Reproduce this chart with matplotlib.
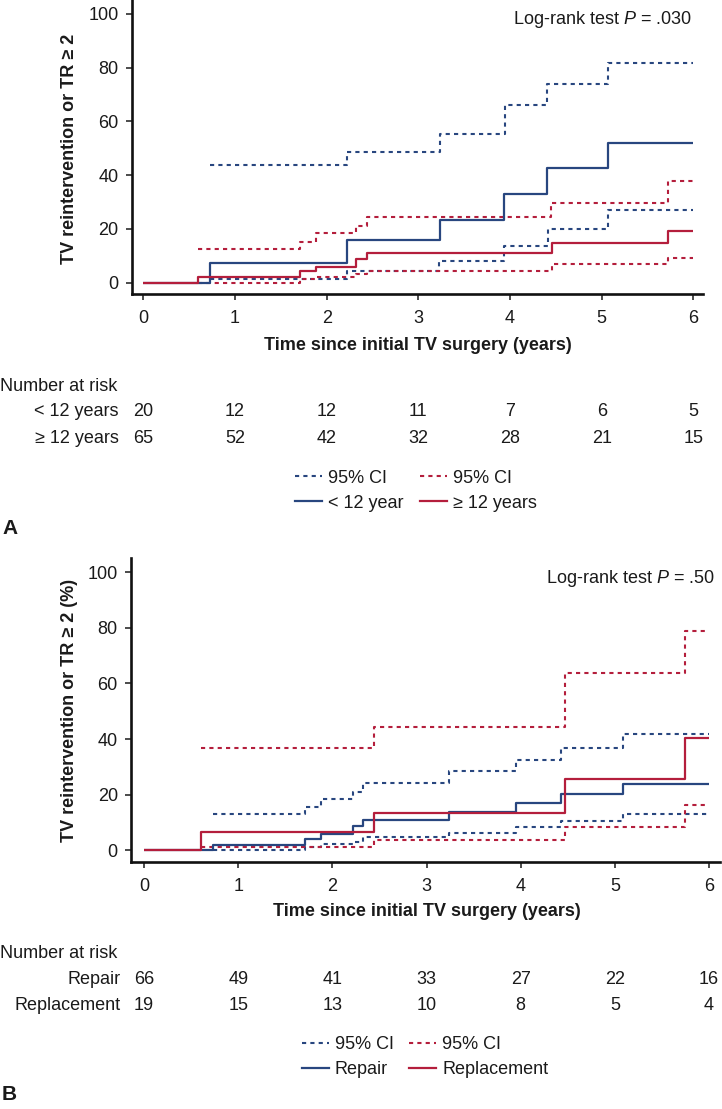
import matplotlib
matplotlib.use("Agg")
import matplotlib.pyplot as plt
from matplotlib.lines import Line2D
from matplotlib.transforms import blended_transform_factory

plt.rcParams['font.family'] = ['Liberation Sans', 'DejaVu Sans']
plt.rcParams['mathtext.fontset'] = 'custom'
plt.rcParams['mathtext.rm'] = 'Liberation Sans'
plt.rcParams['mathtext.it'] = 'Liberation Sans:italic'

BLUE = '#28467f'
RED = '#b41e3c'
TXT = '#1a1a1a'

# ---------------- Panel A data ----------------
a_young_t = [0, 0.73, 2.22, 3.24, 3.93, 4.40, 5.07, 6.0]
a_young_v = [0, 7.5, 15.7, 23.3, 33.0, 42.5, 52.1, 52.1]
a_young_hi_t = [0.73, 2.22, 3.24, 3.94, 4.40, 5.07, 6.0]
a_young_hi_v = [43.7, 48.6, 55.4, 66.2, 74.0, 81.7, 81.7]
a_young_lo_t = [0.73, 2.22, 3.23, 3.93, 4.41, 5.07, 6.0]
a_young_lo_v = [1.3, 4.4, 8.1, 13.7, 19.9, 27.0, 27.0]

a_old_t = [0, 0.6, 1.71, 1.88, 2.32, 2.44, 4.46, 5.72, 6.0]
a_old_v = [0, 2.0, 4.4, 6.0, 8.8, 11.0, 14.9, 19.3, 19.3]
a_old_hi_t = [0.6, 1.71, 1.88, 2.32, 2.44, 4.45, 5.72, 6.0]
a_old_hi_v = [12.6, 15.2, 18.4, 20.9, 24.3, 29.7, 37.9, 37.9]
a_old_lo_t = [0.6, 1.71, 1.88, 2.32, 2.44, 4.46, 5.72, 6.0]
a_old_lo_v = [0, 1.2, 2.0, 3.2, 4.5, 7.0, 9.2, 9.2]

a_risk_times = [0, 1, 2, 3, 4, 5, 6]
a_risk_young = [20, 12, 12, 11, 7, 6, 5]
a_risk_old = [65, 52, 42, 32, 28, 21, 15]
a_groups = ['< 12 years', '\u2265 12 years']
a_legend = ['95% CI', '< 12 year', '95% CI', '\u2265 12 years']

# ---------------- Panel B data ----------------
b_rep_t = [0, 0.73, 1.71, 1.88, 2.22, 2.33, 3.24, 3.95, 4.43, 5.09, 6.0]
b_rep_v = [0, 1.9, 4.1, 5.9, 8.8, 10.9, 13.8, 17.1, 20.3, 23.9, 23.9]
b_rep_ci_t = [0.73, 1.71, 1.88, 2.22, 2.33, 3.24, 3.95, 4.43, 5.09, 6.0]
b_rep_hi_v = [12.9, 15.5, 18.3, 21.1, 24.3, 28.4, 32.4, 36.7, 42.0, 42.0]
b_rep_lo_v = [0.2, 1.3, 2.3, 3.1, 4.8, 6.1, 8.3, 10.6, 12.9, 12.9]

b_repl_t = [0, 0.6, 2.44, 4.47, 5.74, 6.0]
b_repl_v = [0, 6.5, 13.4, 25.7, 40.5, 40.5]
b_repl_ci_t = [0.6, 2.44, 4.47, 5.74, 6.0]
b_repl_hi_v = [36.8, 44.5, 63.7, 79.0, 79.0]
b_repl_lo_v = [1.1, 3.6, 8.5, 16.3, 16.3]

b_risk_times = [0, 1, 2, 3, 4, 5, 6]
b_risk_repair = [66, 49, 41, 33, 27, 22, 16]
b_risk_repl = [19, 15, 13, 10, 8, 5, 4]
b_groups = ['Repair', 'Replacement']
b_legend = ['95% CI', 'Repair', '95% CI', 'Replacement']

W, H = 722, 1109
fig = plt.figure(figsize=(W / 100, H / 100), dpi=100)


def fx(x):
    return x / W


def fy(y):
    return 1 - y / H


FS = 13
DASH = (0, (2.0, 2.0))


def style_axes(ax, xlim, ylim):
    ax.set_xlim(*xlim)
    ax.set_ylim(*ylim)
    ax.set_xticks(range(7))
    ax.set_yticks(range(0, 101, 20))
    for s in ['top', 'right']:
        ax.spines[s].set_visible(False)
    for s in ['left', 'bottom']:
        ax.spines[s].set_linewidth(1.9)
        ax.spines[s].set_color('#111111')
    ax.tick_params(axis='x', direction='out', length=4.5, width=1.1,
                   labelsize=FS, pad=7, colors=TXT)
    ax.tick_params(axis='y', direction='out', length=4.5, width=1.1,
                   labelsize=FS, pad=5, colors=TXT)
    ax.patch.set_alpha(0)


def step(ax, t, v, color, ls='-'):
    ax.step(t, v, where='post', color=color, lw=1.6 if ls == '-' else 1.5,
            linestyle=ls, solid_capstyle='butt', dash_capstyle='butt')


def legend(handles, labels, x, y, sp):
    fig.legend(handles, labels, loc='upper left',
               bbox_to_anchor=(fx(x), fy(y)), ncol=2, frameon=False,
               fontsize=FS, handlelength=1.5, handletextpad=0.33,
               columnspacing=sp, labelspacing=0.45, borderpad=0,
               borderaxespad=0, labelcolor=TXT)


def make_handles():
    return [Line2D([], [], color=BLUE, lw=1.5, linestyle=DASH),
            Line2D([], [], color=BLUE, lw=1.6),
            Line2D([], [], color=RED, lw=1.5, linestyle=DASH),
            Line2D([], [], color=RED, lw=1.6)]


# ---------------- Panel A ----------------
axA = fig.add_axes([fx(131.7), fy(294), fx(703 - 131.7), 294 / H])
style_axes(axA, (-0.127, 6.104), (-4.2, 105.1))
step(axA, a_young_hi_t, a_young_hi_v, BLUE, DASH)
step(axA, a_young_lo_t, a_young_lo_v, BLUE, DASH)
step(axA, a_old_hi_t, a_old_hi_v, RED, DASH)
step(axA, a_old_lo_t, a_old_lo_v, RED, DASH)
step(axA, a_young_t, a_young_v, BLUE)
step(axA, a_old_t, a_old_v, RED)

fig.text(fx(70), fy(148.5), 'TV reintervention or TR \u2265 2', rotation=90,
         ha='center', va='center', fontsize=FS, fontweight='bold', color=TXT)
fig.text(fx(418), fy(345), 'Time since initial TV surgery (years)',
         ha='center', va='center', fontsize=FS, fontweight='bold', color=TXT)
fig.text(fx(692), fy(20), 'Log-rank test $P$ = .030', ha='right', va='center',
         fontsize=FS, color=TXT)

trA = blended_transform_factory(axA.transData, fig.transFigure)
fig.text(fx(0), fy(386.7), 'Number at risk', ha='left', va='center',
         fontsize=FS, color=TXT)
for row_y, lab, vals in [(411.7, a_groups[0], a_risk_young),
                         (438.3, a_groups[1], a_risk_old)]:
    fig.text(fx(119), fy(row_y), lab, ha='right', va='center', fontsize=FS,
             color=TXT)
    for t, n in zip(a_risk_times, vals):
        fig.text(t, fy(row_y), str(n), transform=trA, ha='center',
                 va='center', fontsize=FS, color=TXT)

legend(make_handles(), a_legend, 295, 469.5, 0.9)

fig.text(fx(2), fy(528), 'A', ha='left', va='center', fontsize=15,
         fontweight='bold', color=TXT)

# ---------------- Panel B ----------------
axB = fig.add_axes([fx(131), fy(862.3), fx(720 - 131), (862.3 - 558.3) / H])
style_axes(axB, (-0.139, 6.117), (-4.3, 105.0))
step(axB, b_rep_ci_t, b_rep_hi_v, BLUE, DASH)
step(axB, b_rep_ci_t, b_rep_lo_v, BLUE, DASH)
step(axB, b_repl_ci_t, b_repl_hi_v, RED, DASH)
step(axB, b_repl_ci_t, b_repl_lo_v, RED, DASH)
step(axB, b_rep_t, b_rep_v, BLUE)
step(axB, b_repl_t, b_repl_v, RED)

fig.text(fx(70), fy(710.3), 'TV reintervention or TR \u2265 2 (%)', rotation=90,
         ha='center', va='center', fontsize=FS, fontweight='bold', color=TXT)
fig.text(fx(427), fy(911.7), 'Time since initial TV surgery (years)',
         ha='center', va='center', fontsize=FS, fontweight='bold', color=TXT)
fig.text(fx(715), fy(578.3), 'Log-rank test $P$ = .50', ha='right',
         va='center', fontsize=FS, color=TXT)

trB = blended_transform_factory(axB.transData, fig.transFigure)
fig.text(fx(0), fy(953.3), 'Number at risk', ha='left', va='center',
         fontsize=FS, color=TXT)
for row_y, lab, vals in [(980, b_groups[0], b_risk_repair),
                         (1006, b_groups[1], b_risk_repl)]:
    fig.text(fx(120.6), fy(row_y), lab, ha='right', va='center', fontsize=FS,
             color=TXT)
    for t, n in zip(b_risk_times, vals):
        fig.text(t, fy(row_y), str(n), transform=trB, ha='center',
                 va='center', fontsize=FS, color=TXT)

legend(make_handles(), b_legend, 301.6, 1036, 0.85)

fig.text(fx(2), fy(1095), 'B', ha='left', va='center', fontsize=15,
         fontweight='bold', color=TXT)

fig.savefig('out.png', dpi=100)
